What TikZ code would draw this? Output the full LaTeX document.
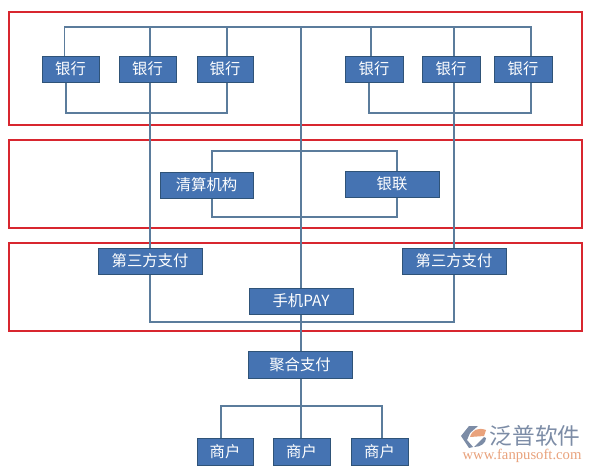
\documentclass[tikz,border=0pt]{standalone}
\usepackage{fontspec}
\setmainfont{Noto Sans CJK SC}
\newfontfamily\wmurl{Liberation Serif}
\usetikzlibrary{backgrounds,calc}
\definecolor{boxfill}{HTML}{4573B2}
\definecolor{boxedge}{HTML}{2F5378}
\definecolor{conn}{HTML}{5B7C9C}
\definecolor{frame}{HTML}{D8262F}
\definecolor{wmgrey}{HTML}{7C8CA6}
\definecolor{wmorange}{HTML}{E9A27C}
\tikzset{
  x=0.75pt,y=-0.75pt,
  pb/.style={fill=boxfill,draw=boxedge,line width=0.7pt,text=white,inner sep=0pt,font=\fontsize{11.5}{12}\selectfont},
  conn/.style={draw=conn,line width=1.1pt},
  redframe/.style={draw=frame,line width=1.3pt},
}
\newcommand{\pbox}[6]{\node[pb,minimum width=#4*0.75pt,minimum height=#5*0.75pt] (#1) at (#2,#3) {#6};}
\begin{document}
\begin{tikzpicture}
\useasboundingbox (0,0) rectangle (591,470);
% nodes
\pbox{ba}{70.5}{69}{57}{26}{银行}
\pbox{bb}{147.5}{69}{57}{26}{银行}
\pbox{bc}{225}{69}{56}{26}{银行}
\pbox{bd}{374}{69}{58}{26}{银行}
\pbox{be}{451}{69}{58}{26}{银行}
\pbox{bf}{523}{69}{58}{26}{银行}
\pbox{qs}{206.5}{185}{93}{26}{清算机构}
\pbox{yl}{392}{184}{94}{26}{银联}
\pbox{tl}{150}{261}{104}{26}{第三方支付}
\pbox{tr}{454}{261}{104}{26}{第三方支付}
\pbox{sj}{301}{301}{104}{26}{手机PAY}
\pbox{jh}{300}{364.5}{104}{27}{聚合支付}
\pbox{ma}{225}{451.5}{56}{27}{商户}
\pbox{mb}{301.5}{451.5}{57}{27}{商户}
\pbox{mc}{379.5}{451.5}{57}{27}{商户}
% junction coordinates
\coordinate (topl) at (64.5,27);
\coordinate (topr) at (531,27);
\coordinate (topc) at (301,27);
\coordinate (tb) at (150,27);
\coordinate (tc) at (227,27);
\coordinate (td) at (371,27);
\coordinate (te) at (454,27);
\coordinate (lowl) at (66,113);
\coordinate (lowc) at (227,113);
\coordinate (lowd) at (369,113);
\coordinate (lowf) at (531,113);
\coordinate (cl1) at (212,151);
\coordinate (cr1) at (397,151);
\coordinate (cl2) at (212,217);
\coordinate (cr2) at (397,217);
\coordinate (paytl) at (150,322);
\coordinate (paytr) at (454,322);
\coordinate (mbus) at (301,406);
\coordinate (mbl) at (221,406);
\coordinate (mbr) at (382,406);
\begin{scope}[on background layer]
  \fill[white] (0,0) rectangle (591,470);
  \node[redframe,minimum width=573*0.75pt,minimum height=113*0.75pt,inner sep=0pt] (fa) at (295.5,68.5) {};
  \node[redframe,minimum width=573*0.75pt,minimum height=88*0.75pt,inner sep=0pt] (fb) at (295.5,184) {};
  \node[redframe,minimum width=573*0.75pt,minimum height=88*0.75pt,inner sep=0pt] (fc) at (295.5,287) {};
  % top bus
  \draw[conn] (ba.north -| topl) -- (topl) -- (topr) -- (bf.north -| topr);
  \draw[conn] (tb) -- (tl.north);
  \draw[conn] (tc) -- (bc.north -| tc);
  \draw[conn] (topc) -- (jh.north -| topc);
  \draw[conn] (td) -- (bd.north -| td);
  \draw[conn] (te) -- (tr.north);
  % lower bank brackets
  \draw[conn] (ba.south -| lowl) -- (lowl) -- (lowc) -- (bc.south -| lowc);
  \draw[conn] (bd.south -| lowd) -- (lowd) -- (lowf) -- (bf.south -| lowf);
  % clearing loop
  \draw[conn] (qs.north -| cl1) -- (cl1) -- (cr1) -- (yl.north -| cr1);
  \draw[conn] (qs.south -| cl2) -- (cl2) -- (cr2) -- (yl.south -| cr2);
  % third-party bus
  \draw[conn] (tl.south) -- (paytl) -- (paytr) -- (tr.south);
  % merchants
  \draw[conn] (jh.south -| mbus) -- (mbus);
  \draw[conn] (ma.north -| mbl) -- (mbl) -- (mbr) -- (mc.north -| mbr);
  \draw[conn] (mbus) -- (mb.north -| mbus);
\end{scope}
% watermark
\fill[wmgrey] (461,436) -- (469,426) -- (478,426) -- (470,433) -- (467,440) -- (473,447) -- (469,448) -- cycle;
\fill[wmorange] (470,437) .. controls (472,430) and (478,427) .. (486,430) -- (484,436) -- cycle;
\fill[wmgrey] (474,447) -- (484,437) -- (486,438) .. controls (486,443) and (481,447) .. (474,447) -- cycle;
\node[text=wmgrey,inner sep=0pt,font=\fontsize{17}{18}\selectfont] (wm) at (535,435.5) {泛普软件};
\node[text=wmorange,inner sep=0pt,font=\wmurl\fontsize{11}{11}\selectfont] (wu) at (522,456) {www.fanpusoft.com};
\end{tikzpicture}
\end{document}
